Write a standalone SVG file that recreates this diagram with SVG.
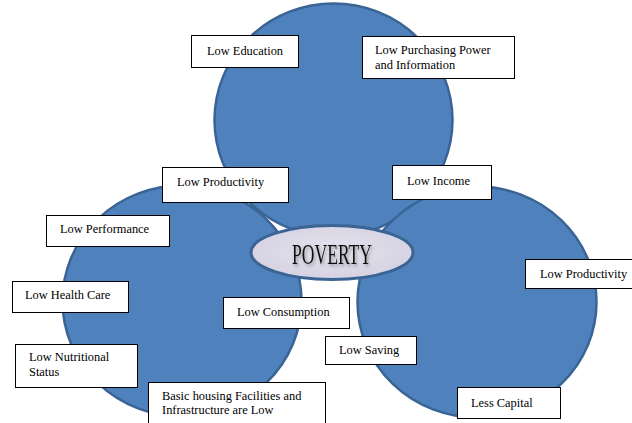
<svg xmlns="http://www.w3.org/2000/svg" width="632" height="423" viewBox="0 0 632 423">
  <style>
    .ring { fill: #4f81bd; stroke: #3a6494; stroke-width: 2.5; }
    .box { fill: #ffffff; stroke: #000000; stroke-width: 1; }
    .lbl { font-family: "Liberation Serif", "Times New Roman", serif; font-size: 12.4px; fill: #000000; }
    .core { fill: #dcd8e6; stroke: #3a6494; stroke-width: 3; }
    .title { font-family: "Liberation Serif", "Times New Roman", serif; font-size: 30px; fill: #111111; }
  </style>
  <defs>
    <filter id="txtShadow" x="-10%" y="-20%" width="130%" height="160%">
      <feDropShadow dx="1.5" dy="2" stdDeviation="1.5" flood-color="#555555" flood-opacity="0.55"/>
    </filter>
    <radialGradient id="coreFill" cx="50%" cy="45%" r="60%">
      <stop offset="0" stop-color="#e6e3ef"/>
      <stop offset="1" stop-color="#d4d0e0"/>
    </radialGradient>
  </defs>

  <rect width="632" height="423" fill="#ffffff"/>

  <!-- three cause circles -->
  <g id="circles">
    <ellipse id="circle-top" class="ring" cx="333.5" cy="120" rx="119" ry="116.5"/>
    <ellipse id="circle-left" class="ring" cx="182" cy="301" rx="119.5" ry="115.5"/>
    <ellipse id="circle-right" class="ring" cx="477" cy="302" rx="119.5" ry="115.5"/>
  </g>

  <!-- central node -->
  <g id="poverty">
    <ellipse class="core" cx="332" cy="252.5" rx="81" ry="27" style="fill:url(#coreFill)"/>
    <text class="title" x="292" y="264" textLength="80" lengthAdjust="spacingAndGlyphs" filter="url(#txtShadow)">POVERTY</text>
  </g>

  <!-- labels on the top circle -->
  <g id="low-education">
    <rect class="box" x="191.5" y="35.5" width="107" height="32"/>
    <text class="lbl" x="207" y="55">Low Education</text>
  </g>
  <g id="low-purchasing-power">
    <rect class="box" x="362.5" y="36.5" width="152" height="42"/>
    <text class="lbl" x="375" y="54">Low Purchasing Power</text>
    <text class="lbl" x="375" y="69">and Information</text>
  </g>
  <g id="low-productivity-top">
    <rect class="box" x="162.5" y="167.5" width="126" height="35"/>
    <text class="lbl" x="177" y="186">Low Productivity</text>
  </g>
  <g id="low-income">
    <rect class="box" x="392.5" y="165.5" width="99" height="34"/>
    <text class="lbl" x="407" y="185">Low Income</text>
  </g>

  <!-- labels on the left circle -->
  <g id="low-performance">
    <rect class="box" x="46.5" y="215.5" width="123" height="31"/>
    <text class="lbl" x="60" y="233">Low Performance</text>
  </g>
  <g id="low-health-care">
    <rect class="box" x="12.5" y="281.5" width="116" height="31"/>
    <text class="lbl" x="25" y="299">Low Health Care</text>
  </g>
  <g id="low-nutritional-status">
    <rect class="box" x="15.5" y="344.5" width="122" height="43"/>
    <text class="lbl" x="29" y="361">Low Nutritional</text>
    <text class="lbl" x="29" y="376">Status</text>
  </g>
  <g id="basic-housing">
    <rect class="box" x="148.5" y="382.5" width="177" height="45"/>
    <text class="lbl" x="162" y="400">Basic housing Facilities and</text>
    <text class="lbl" x="162" y="414">Infrastructure are Low</text>
  </g>
  <g id="low-consumption">
    <rect class="box" x="223.5" y="297.5" width="126" height="31"/>
    <text class="lbl" x="237" y="316">Low Consumption</text>
  </g>

  <!-- labels on the right circle -->
  <g id="low-saving">
    <rect class="box" x="325.5" y="336.5" width="91" height="28"/>
    <text class="lbl" x="339" y="354">Low Saving</text>
  </g>
  <g id="low-productivity-right">
    <rect class="box" x="525.5" y="259.5" width="110" height="29"/>
    <text class="lbl" x="540" y="278">Low Productivity</text>
  </g>
  <g id="less-capital">
    <rect class="box" x="457.5" y="387.5" width="103" height="31"/>
    <text class="lbl" x="471" y="407">Less Capital</text>
  </g>
</svg>
